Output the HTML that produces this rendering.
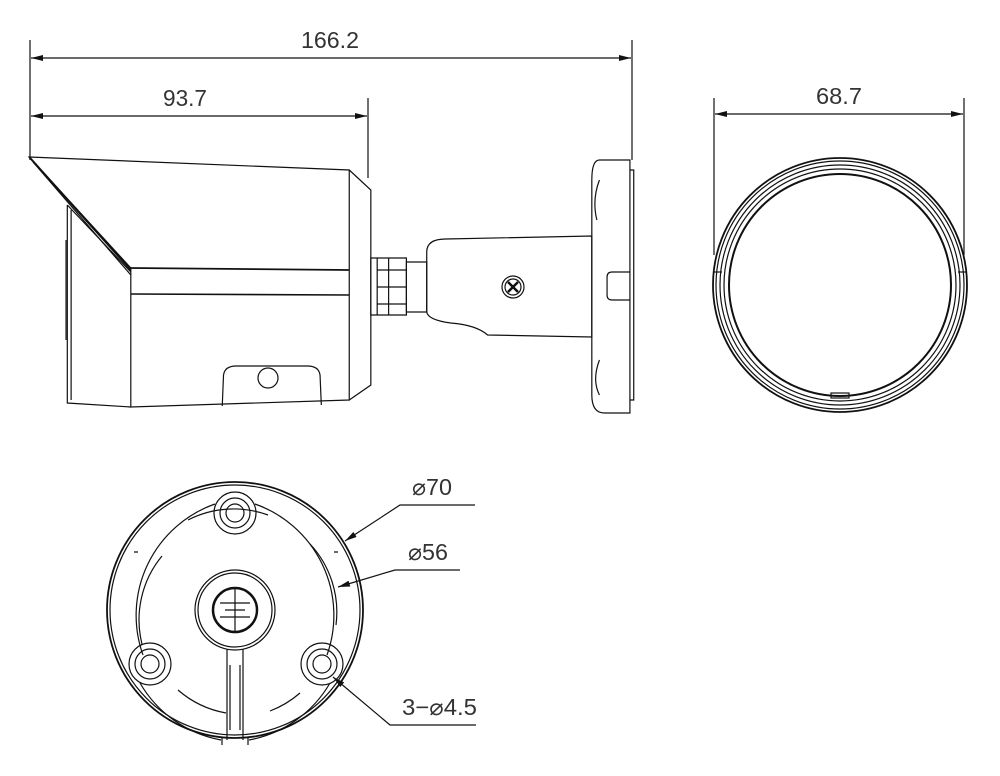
<!DOCTYPE html>
<html><head><meta charset="utf-8"><style>
html,body{margin:0;padding:0;background:#fff}
svg{display:block}
text{font-family:"Liberation Sans",sans-serif;fill:#333}
</style></head><body>
<svg width="1000" height="776" viewBox="0 0 1000 776" xmlns="http://www.w3.org/2000/svg">
<defs>
<marker id="ar" viewBox="0 0 12 6" refX="12" refY="3" markerWidth="12" markerHeight="6" orient="auto-start-reverse" markerUnits="userSpaceOnUse"><path d="M0,0 L12,3 L0,6 z" fill="#111"/></marker>
</defs>
<g stroke="#111" stroke-width="1.2" fill="none">
<!-- dimensions -->
<line x1="30" y1="40" x2="30" y2="160"/>
<line x1="632" y1="40" x2="632" y2="160"/>
<line x1="368" y1="98" x2="368" y2="178"/>
<line x1="31" y1="58" x2="631" y2="58" marker-start="url(#ar)" marker-end="url(#ar)"/>
<line x1="31" y1="116" x2="367" y2="116" marker-start="url(#ar)" marker-end="url(#ar)"/>
<line x1="714" y1="98" x2="714" y2="255"/>
<line x1="964" y1="98" x2="964" y2="255"/>
<line x1="715" y1="114" x2="963" y2="114" marker-start="url(#ar)" marker-end="url(#ar)"/>

<!-- side view camera (x scaled) -->
<g transform="scale(1.27,1)">
<g vector-effect="non-scaling-stroke">
<path vector-effect="non-scaling-stroke" d="M23,157 L275,170 L275,400 L103,407 L103,268 Z"/>
<path vector-effect="non-scaling-stroke" d="M23,157 L103,270" stroke-width="2"/>
<path vector-effect="non-scaling-stroke" d="M26,162 L103,275"/>
<line vector-effect="non-scaling-stroke" x1="103" y1="268" x2="275" y2="270" stroke-width="1.8"/>
<line vector-effect="non-scaling-stroke" x1="103" y1="294" x2="275" y2="295" stroke-width="1.6"/>
<path vector-effect="non-scaling-stroke" d="M275,170 L292,190 L292,385 L275,400"/>
<path vector-effect="non-scaling-stroke" d="M53,205 L103,272 M53,205 L53,403 L103,407"/>
<line vector-effect="non-scaling-stroke" x1="56" y1="210" x2="56" y2="400"/>
<line vector-effect="non-scaling-stroke" x1="52" y1="240" x2="52" y2="340"/>
<path vector-effect="non-scaling-stroke" d="M175,406 L176,375 Q177,366 186,366 L242,366 Q251,366 252,375 L253,405"/>
<rect vector-effect="non-scaling-stroke" x="292" y="258" width="28" height="57"/>
<line vector-effect="non-scaling-stroke" x1="297" y1="258" x2="297" y2="315"/>
<line vector-effect="non-scaling-stroke" x1="306" y1="258" x2="306" y2="315"/>
<line vector-effect="non-scaling-stroke" x1="297" y1="270" x2="320" y2="270"/>
<line vector-effect="non-scaling-stroke" x1="297" y1="287" x2="320" y2="287"/>
<line vector-effect="non-scaling-stroke" x1="297" y1="304" x2="320" y2="304"/>
<rect vector-effect="non-scaling-stroke" x="320" y="262" width="16" height="50"/>
<path vector-effect="non-scaling-stroke" d="M336,312 L336,252 Q336,239 351,239 L466,236 L466,337 L384,335 Q375,325 355,323 Q337,320 336,312 Z"/>
<path vector-effect="non-scaling-stroke" d="M472,160 L496,160 L496,413 L476,413 Q466,413 466,395 L466,180 Q466,160 472,160 Z"/>
<path vector-effect="non-scaling-stroke" d="M496,170 L499,170 L499,400 L496,400"/>
<path vector-effect="non-scaling-stroke" d="M496,272 L482,272 Q478,272 478,277 L478,295 Q478,300 482,300 L496,300"/>
<path vector-effect="non-scaling-stroke" d="M472,180 Q466,200 470,220 M472,360 Q466,380 472,395"/>
</g>
</g>
<circle cx="268" cy="378" r="10"/>
<circle cx="513" cy="287" r="11"/>
<circle cx="513" cy="287" r="8"/>
<path d="M508,282 L518,292 M518,282 L508,292" stroke-width="2.5"/>

<!-- front view -->
<circle cx="840" cy="285" r="127" stroke-width="1.8"/>
<circle cx="840" cy="285" r="124"/>
<circle cx="840" cy="285" r="120"/>
<circle cx="840" cy="285" r="116"/>
<circle cx="840" cy="285" r="111" stroke-width="2"/>
<line x1="713" y1="272" x2="722" y2="272"/>
<line x1="958" y1="272" x2="966" y2="272"/>
<rect x="831" y="393" width="18" height="5"/>

<!-- base view -->
<circle cx="235" cy="610" r="128" stroke-width="1.8"/>
<circle cx="235" cy="610" r="125"/>
<path d="M249,740 A118,118 0 0 0 330,683 M140,683 A118,118 0 0 0 221,740" />
<path d="M143,655 A118,118 0 0 1 215,504 M255,504 A118,118 0 0 1 327,655"/>
<path d="M162,556 A100,100 0 0 0 142,644 M310,544 A100,100 0 0 1 336,625"/>
<path d="M188,520 A100,100 0 0 1 268,515 M178,690 A100,100 0 0 0 226,713 M270,711 A100,100 0 0 0 300,693"/>
<circle cx="235" cy="610" r="40"/>
<circle cx="235" cy="610" r="37"/>
<circle cx="235" cy="610" r="22" stroke-width="2.5"/>
<line x1="235" y1="588" x2="235" y2="632"/>
<path d="M220,603 L250,603 M220,617 L250,617 M225,610 L245,610"/>
<path d="M227,649 L227,740 M243,649 L243,740 M222,738 L222,745 M248,738 L248,745"/>
<path d="M230,665 L230,730 M240,665 L240,730"/>
<circle cx="235" cy="513" r="21"/><circle cx="235" cy="513" r="9"/><circle cx="235" cy="513" r="15"/>
<circle cx="150" cy="664" r="21"/><circle cx="150" cy="664" r="9"/><circle cx="150" cy="664" r="15"/>
<circle cx="322" cy="664" r="21"/><circle cx="322" cy="664" r="9"/><circle cx="322" cy="664" r="15"/>
<path d="M134,552 L138,552 M334,552 L338,552"/>
<path d="M475,505 L400,505 L345,541" marker-end="url(#ar)"/>
<path d="M460,570 L395,570 L338,587" marker-end="url(#ar)"/>
<path d="M476,725 L390,725 L333,677" marker-end="url(#ar)"/>
</g>
<g font-size="23">
<text x="301" y="48" textLength="58" lengthAdjust="spacingAndGlyphs">166.2</text>
<text x="163" y="106" textLength="44" lengthAdjust="spacingAndGlyphs">93.7</text>
<text x="816" y="104" textLength="46" lengthAdjust="spacingAndGlyphs">68.7</text>
<text x="412" y="495" textLength="40" lengthAdjust="spacingAndGlyphs">⌀70</text>
<text x="408" y="560" textLength="40" lengthAdjust="spacingAndGlyphs">⌀56</text>
<text x="402" y="715" textLength="75" lengthAdjust="spacingAndGlyphs">3−⌀4.5</text>
</g>
</svg>
</body></html>
